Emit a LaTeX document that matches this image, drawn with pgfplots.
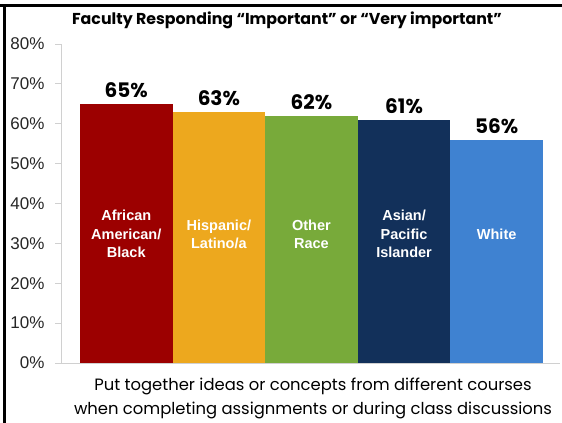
\documentclass[border=0pt]{standalone}
\usepackage{fontspec}
\setmainfont{Liberation Sans}
\newfontfamily\gothic{Poppins}
\usepackage{pgfplots}
\pgfplotsset{compat=1.18}

\definecolor{cRed}{HTML}{9C0000}
\definecolor{cGold}{HTML}{EDA81E}
\definecolor{cGreen}{HTML}{78AA3A}
\definecolor{cNavy}{HTML}{12305A}
\definecolor{cBlue}{HTML}{3F82D1}
\definecolor{axisgray}{HTML}{D0D0D0}

\pgfplotsset{
  pctbar/.style={ybar, bar width=1, bar shift=0pt, draw=none, fill=#1,
    nodes near coords={\pgfmathprintnumber{\pgfplotspointmeta}\%},
    every node near coord/.append style={font=\gothic\bfseries\fontsize{20bp}{22bp}\selectfont,
      text=black, inner sep=2bp, yshift=4bp}},
}

\begin{document}
\begin{tikzpicture}
\useasboundingbox (0,0) rectangle (562bp,423bp);
\fill[white] (0,0) rectangle (562bp,423bp);
\fill[black] (0,416bp) rectangle (562bp,419bp);
\fill[black] (2.5bp,0) rectangle (5.5bp,419bp);

\begin{axis}[
  at={(61bp,60bp)}, anchor=south west,
  scale only axis, width=499bp, height=319bp,
  xmin=-0.705, xmax=4.684, ymin=0, ymax=80,
  axis x line=bottom, axis y line=left,
  axis line style={draw=axisgray, -, line width=0.8bp},
  xtick=\empty, ytick={0,10,...,80},
  tick style={draw=axisgray, line width=0.8bp},
  major tick length=6bp, tick align=outside,
  /pgf/number format/assume math mode=true,
  yticklabel={\pgfmathprintnumber{\tick}\%},
  yticklabel style={font=\fontsize{17bp}{19bp}\selectfont, text=black!85, xshift=-7bp},
  clip=false,
]
\addplot[pctbar=cRed] coordinates {(0,65)};
\addplot[pctbar=cGold] coordinates {(1,63)};
\addplot[pctbar=cGreen] coordinates {(2,62)};
\addplot[pctbar=cNavy] coordinates {(3,61)};
\addplot[pctbar=cBlue] coordinates {(4,56)};
% category names inside the bars
\addplot[draw=none, mark=none, point meta=explicit symbolic,
  nodes near coords, nodes near coords align={center},
  every node near coord/.append style={anchor=center, align=center, text=white,
    font=\bfseries\fontsize{14.5bp}{18.5bp}\selectfont}]
  coordinates {
    (0,32.3) [African\\American/\\Black]
    (1,32.3) [Hispanic/\\Latino/a]
    (2,32.3) [Other\\Race]
    (3,32.3) [Asian/\\Pacific\\Islander]
    (4,32.3) [White]
  };
\end{axis}

\node[font=\gothic\bfseries\fontsize{15.8bp}{18bp}\selectfont] at (287bp,403bp)
  {Faculty Responding “Important” or “Very important”};
\node[align=center, font=\gothic\fontsize{16.4bp}{24bp}\selectfont] at (313bp,25bp)
  {Put together ideas or concepts from different courses\\when completing assignments or during class discussions};
\end{tikzpicture}
\end{document}
